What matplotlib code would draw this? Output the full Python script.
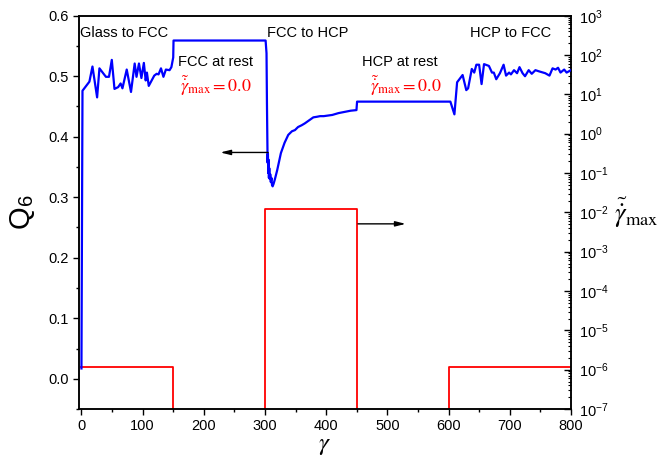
import math
import matplotlib
matplotlib.use("Agg")
import matplotlib.pyplot as plt
from matplotlib.ticker import MultipleLocator, FixedLocator, FuncFormatter, LogLocator, NullFormatter

plt.rcParams['font.family'] = ['Liberation Sans', 'DejaVu Sans']
plt.rcParams['mathtext.fontset'] = 'stix'

# Bond-orientational order parameter Q6 versus accumulated strain
strain = [0, 1.7, 13, 18, 25.6, 29.4, 40, 45, 49.6, 54, 60, 64, 67, 74, 81, 87, 90, 94, 98,
          102, 105, 107, 110, 119, 123, 126, 130, 134, 138, 144, 147, 150, 150.5,
          301, 302.5, 303.2, 303.8, 304.3, 304.8, 305.3, 305.8, 306.4, 307, 307.8, 308.6,
          309.5, 310.5, 311.5, 312.5, 314, 316, 320, 326, 332, 338, 344, 349, 354, 360, 365,
          372, 379, 385, 390, 396, 403, 410, 420, 430, 440, 449.5, 450.5,
          603, 609.6, 614, 623, 629, 632, 638, 642, 645.5, 650, 654, 658, 666, 671, 674, 678,
          684, 690, 694, 699, 702, 707, 712, 716, 721, 725, 731, 736, 742, 748, 758, 765, 770,
          775, 779, 783, 789, 793, 800]
q6 = [0.017, 0.476, 0.491, 0.516, 0.465, 0.513, 0.499, 0.499, 0.527, 0.479, 0.482, 0.488,
      0.480, 0.511, 0.474, 0.521, 0.499, 0.521, 0.497, 0.522, 0.493, 0.506, 0.484, 0.501,
      0.504, 0.503, 0.513, 0.499, 0.511, 0.510, 0.515, 0.531, 0.559,
      0.559, 0.538, 0.455, 0.400, 0.357, 0.372, 0.340, 0.362, 0.332, 0.348, 0.330, 0.338,
      0.325, 0.332, 0.320, 0.318, 0.322, 0.329, 0.345, 0.373, 0.390, 0.403, 0.409, 0.411,
      0.416, 0.419, 0.422, 0.427, 0.432, 0.433, 0.434, 0.434, 0.435, 0.436, 0.439, 0.441,
      0.443, 0.444, 0.458,
      0.458, 0.437, 0.490, 0.502, 0.477, 0.480, 0.512, 0.506, 0.519, 0.519, 0.487, 0.520,
      0.517, 0.506, 0.506, 0.495, 0.505, 0.519, 0.501, 0.506, 0.503, 0.510, 0.505, 0.515,
      0.505, 0.500, 0.510, 0.504, 0.510, 0.508, 0.505, 0.501, 0.513, 0.511, 0.514, 0.506,
      0.511, 0.506, 0.510]

# Maximum scaled shear rate (zero during the rest periods)
rate_strain = [0, 150, 150, 300, 300, 450, 450, 600, 600, 800]
rate_max = [1.2e-6, 1.2e-6, 0, 0, 1.2e-2, 1.2e-2, 0, 0, 1.2e-6, 1.2e-6]

x_ticks = [0, 100, 200, 300, 400, 500, 600, 700, 800]
q6_ticks = [0.0, 0.1, 0.2, 0.3, 0.4, 0.5, 0.6]
rate_exponents = [-7, -6, -5, -4, -3, -2, -1, 0, 1, 2, 3]

fig = plt.figure(figsize=(6.6, 4.62), dpi=100)
ax = fig.add_axes([0.1197, 0.1147, 0.7453, 0.8513])
ax2 = ax.twinx()

ax.plot(strain, q6, color='#0000ff', lw=1.6, zorder=3)
ax2.plot(rate_strain, rate_max, color='#ff0000', lw=1.3)
ax.set_zorder(ax2.get_zorder() + 1)
ax.patch.set_visible(False)

ax.set_xlim(-4, 800)
ax.set_ylim(-0.05, 0.6)
ax.xaxis.set_major_locator(FixedLocator(x_ticks))
ax.xaxis.set_minor_locator(MultipleLocator(50))
ax.yaxis.set_major_locator(FixedLocator(q6_ticks))
ax.yaxis.set_minor_locator(MultipleLocator(0.05))
ax.yaxis.set_major_formatter(FuncFormatter(lambda v, p: f"{v:.1f}"))
ax.tick_params(axis='both', which='major', direction='out', length=4, width=1,
               labelsize=10.5, top=False, right=False)
ax.tick_params(axis='both', which='minor', direction='out', length=2.5, width=1,
               top=False, right=False)

ax2.set_yscale('log')
ax2.set_ylim(1e-7, 1e3)
ax2.yaxis.set_major_locator(FixedLocator([10.0 ** e for e in rate_exponents]))
ax2.yaxis.set_major_formatter(FuncFormatter(
    lambda v, p: r"$\mathregular{10^{%d}}$" % round(math.log10(v))))
ax2.yaxis.set_minor_locator(LogLocator(base=10, subs=range(2, 10), numticks=30))
ax2.yaxis.set_minor_formatter(NullFormatter())
ax2.tick_params(axis='y', which='major', direction='in', length=5, width=1, labelsize=10.5, pad=6)
ax2.tick_params(axis='y', which='minor', direction='in', length=2.5, width=0.8)

for a in (ax, ax2):
    for s in a.spines.values():
        s.set_linewidth(1.1)

ax.set_xlabel(r"$\gamma$", fontsize=18, labelpad=0)
ax.set_ylabel(r"Q$_\mathregular{6}$", fontsize=21, labelpad=8)
ax2.set_ylabel(r"$\tilde{\dot{\gamma}}_{\rm max}$", fontsize=19, rotation=0,
               labelpad=20, va='center')

ax.text(-2, 0.571, "Glass to FCC", fontsize=10.5, va='center', ha='left')
ax.text(370, 0.571, "FCC to HCP", fontsize=10.5, va='center', ha='center')
ax.text(701, 0.571, "HCP to FCC", fontsize=10.5, va='center', ha='center')
ax.text(158, 0.5235, "FCC at rest", fontsize=10.5, va='center', ha='left')
ax.text(458, 0.5235, "HCP at rest", fontsize=10.5, va='center', ha='left')
ax.text(161, 0.484, r"$\tilde{\dot{\gamma}}_{\rm max}=0.0$", color='#ff0000',
        fontsize=13, va='center', ha='left')
ax.text(471, 0.484, r"$\tilde{\dot{\gamma}}_{\rm max}=0.0$", color='#ff0000',
        fontsize=13, va='center', ha='left')

arrow = dict(arrowstyle='-|>,head_length=0.6,head_width=0.15', color='black', lw=1, shrinkA=0, shrinkB=0)
ax.annotate("", xy=(227, 0.374), xytext=(305, 0.374), arrowprops=arrow)
ax.annotate("", xy=(530, 0.256), xytext=(452, 0.256), arrowprops=arrow)

fig.savefig("out.png", dpi=100)
